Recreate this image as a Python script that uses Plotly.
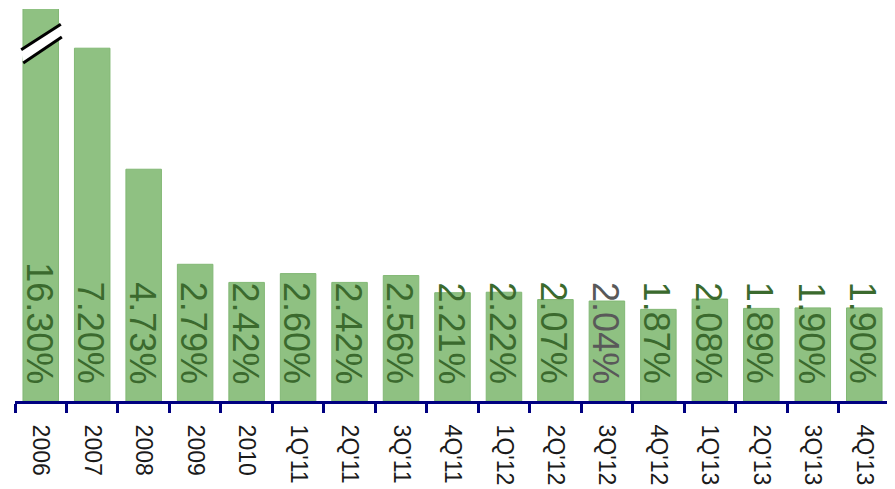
import plotly.graph_objects as go

categories = ["2006", "2007", "2008", "2009", "2010", "1Q'11", "2Q'11", "3Q'11", "4Q'11",
              "1Q'12", "2Q'12", "3Q'12", "4Q'12", "1Q'13", "2Q'13", "3Q'13", "4Q'13"]
values = [16.30, 7.20, 4.73, 2.79, 2.42, 2.60, 2.42, 2.56, 2.21,
          2.22, 2.07, 2.04, 1.87, 2.08, 1.89, 1.90, 1.90]
labels = [f"{v:.2f}%" for v in values]
label_colors = ["#3B6A2E"] * len(values)
label_colors[categories.index("3Q'12")] = "#595959"

Y_MAX = 8.0  # axis is cut; first bar exceeds range (break mark drawn)
N = len(categories)

fig = go.Figure()
fig.add_trace(go.Bar(
    x=categories, y=values,
    marker=dict(color="#8FC182", line=dict(color="#82B875", width=1)),
    hoverinfo="skip",
))

# value labels: x given as category index (category names like "2006" would be read as numbers)
for i, (lab, col) in enumerate(zip(labels, label_colors)):
    fig.add_annotation(
        x=i, y=0, xref="x", yref="y", text=lab, textangle=90,
        showarrow=False, xanchor="center", yanchor="bottom", yshift=15, xshift=-1,
        font=dict(family="Liberation Sans, Arial, sans-serif", size=36, color=col),
    )

# axis break mark on first bar: x as offset from first category centre, converted to x-domain fraction
def dom(off, idx=0):
    return (idx + 0.5 + off) / N

b1 = [(-0.38, 7.17), (0.39, 7.69)]
b2 = [(-0.34, 6.90), (0.41, 7.43)]
fig.add_shape(type="path", xref="x domain", yref="y",
              path=(f"M {dom(b1[0][0])},{b1[0][1]} L {dom(b1[1][0])},{b1[1][1]} "
                    f"L {dom(b2[1][0])},{b2[1][1]} L {dom(b2[0][0])},{b2[0][1]} Z"),
              fillcolor="white", line=dict(width=0))
for seg in (b1, b2):
    fig.add_shape(type="line", xref="x domain", yref="y",
                  x0=dom(seg[0][0]), y0=seg[0][1], x1=dom(seg[1][0]), y1=seg[1][1],
                  line=dict(color="black", width=3))

fig.update_layout(
    width=887, height=481,
    margin=dict(l=7, r=5, t=1, b=88, autoexpand=False),
    paper_bgcolor="white", plot_bgcolor="white",
    bargap=0.31,
    showlegend=False,
    font=dict(family="Liberation Sans, Arial, sans-serif"),
)
fig.update_xaxes(
    type="category", categoryorder="array", categoryarray=categories,
    range=[-0.5, N - 0.5], autorange=False, automargin=False,
    showline=True, linecolor="#000080", linewidth=3,
    ticks="outside", tickson="boundaries", ticklen=9, tickwidth=2.5, tickcolor="#000080",
    tickangle=90, tickfont=dict(size=23, color="#1A1A1A"),
    ticklabelstandoff=16,
    showgrid=False,
)
fig.update_yaxes(range=[0, Y_MAX], visible=False, showgrid=False)

fig.write_html("out.html")
